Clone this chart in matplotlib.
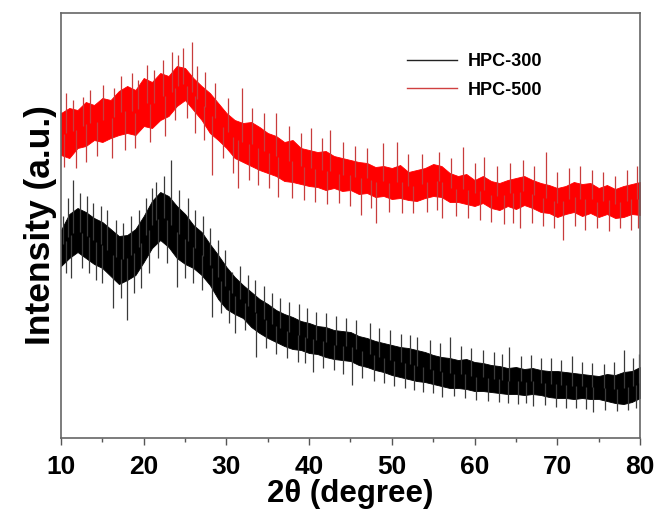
import matplotlib
matplotlib.use("Agg")
import matplotlib.pyplot as plt
from matplotlib.ticker import MultipleLocator

# --- данные (интенсивность в условных единицах) ---
deg = list(range(10, 81))

# HPC-500: верх и низ плотной полосы шума (шаг 1 градус)
red_top = [325, 330, 328, 336, 333, 340, 338, 347, 352, 348, 360, 356, 365, 362, 372, 370,
           360, 352, 345, 335, 325, 318, 315, 316, 311, 305, 302, 296, 298, 290, 288, 286,
           287, 282, 280, 278, 276, 275, 271, 272, 270, 273, 266, 268, 270, 274, 272, 265,
           262, 264, 258, 262, 257, 255, 258, 260, 262, 258, 255, 253, 250, 252, 256, 254,
           255, 250, 253, 249, 252, 254, 256]
red_bot = [283, 280, 290, 292, 298, 296, 300, 303, 305, 303, 312, 310, 318, 322, 332, 338,
           328, 318, 305, 298, 290, 280, 276, 272, 268, 265, 262, 257, 256, 254, 252, 251,
           248, 250, 247, 248, 244, 245, 241, 242, 239, 240, 238, 237, 240, 242, 241, 236,
           236, 234, 232, 235, 230, 228, 232, 229, 233, 230, 226, 225, 221, 224, 226, 222,
           225, 221, 224, 220, 221, 224, 223]

# HPC-300
blk_top = [208, 224, 230, 226, 220, 216, 209, 202, 203, 209, 222, 237, 246, 242, 232, 224,
           213, 206, 194, 183, 171, 161, 153, 146, 139, 134, 128, 124, 121, 117, 115, 112,
           111, 108, 107, 106, 102, 100, 97, 95, 93, 91, 90, 88, 86, 83, 81, 80,
           78, 79, 76, 75, 73, 72, 70, 71, 69, 70, 68, 67, 67, 66, 65, 64,
           63, 62, 64, 63, 66, 67, 71]
blk_bot = [172, 180, 186, 180, 174, 170, 162, 154, 158, 163, 176, 190, 198, 191, 180, 174,
           170, 163, 153, 139, 129, 124, 120, 111, 105, 100, 96, 92, 89, 88, 85, 84,
           81, 79, 78, 77, 73, 71, 68, 66, 63, 61, 59, 57, 56, 54, 52, 50,
           50, 49, 47, 47, 46, 45, 44, 44, 43, 44, 43, 41, 40, 40, 39, 40,
           39, 39, 37, 35, 34, 36, 40]

# отдельные выбросы (положение по 2θ, вершина выброса)
red_up_x = [10.6, 11.4, 12.7, 13.5, 15.1, 16.4, 17.2, 18.6, 19.3, 20.4, 21.2, 22.3, 23.4, 24.1,
            24.8, 25.8, 26.5, 27.4, 28.6, 30.2, 31.9, 33.1, 34.5, 36.0, 37.6, 39.0, 40.2, 41.6,
            42.5, 44.1, 45.6, 47.0, 48.9, 50.6, 52.0, 53.7, 55.7, 57.2, 58.6, 60.0, 61.1, 62.7,
            64.3, 65.9, 67.2, 68.6, 70.0, 71.4, 72.8, 74.2, 75.5, 77.0, 78.4, 79.6]
red_up_y = [345, 338, 341, 348, 353, 350, 362, 365, 358, 373, 368, 378, 386, 383,
            390, 396, 372, 366, 355, 340, 350, 330, 325, 325, 312, 305, 310, 300,
            308, 296, 292, 290, 295, 296, 284, 284, 286, 280, 291, 275, 281, 272,
            275, 278, 272, 286, 266, 270, 272, 268, 266, 262, 268, 272]
red_dn_x = [10.4, 11.8, 13.0, 14.3, 16.2, 17.7, 19.0, 20.8, 22.6, 23.8, 25.2, 26.2, 27.3, 28.3,
            29.6, 30.8, 31.4, 32.7, 33.8, 35.1, 36.2, 37.9, 39.4, 40.7, 42.1, 43.6, 45.0, 46.3,
            47.5, 48.1, 49.6, 51.2, 52.6, 54.3, 55.4, 56.1, 57.8, 59.2, 60.6, 62.0, 63.5, 64.7,
            65.5, 67.0, 68.3, 69.6, 70.7, 72.1, 73.4, 74.8, 76.2, 77.6, 78.9, 79.8]
red_dn_y = [271, 270, 276, 282, 280, 288, 290, 296, 302, 318, 320, 305, 298, 263,
            280, 265, 250, 258, 253, 250, 241, 240, 238, 236, 234, 235, 232, 223,
            230, 215, 226, 225, 225, 226, 228, 220, 222, 220, 218, 216, 214, 215,
            210, 215, 212, 210, 198, 212, 208, 210, 207, 210, 208, 210]

blk_up_x = [10.3, 10.9, 11.5, 12.3, 13.1, 13.9, 14.8, 15.6, 16.6, 17.5, 18.5, 19.4, 20.3, 21.0,
            21.5, 22.4, 23.3, 24.3, 25.3, 26.2, 27.2, 28.0, 29.0, 29.8, 30.7, 31.6, 32.6, 33.4,
            34.6, 35.5, 36.5, 37.6, 38.8, 39.8, 40.8, 42.0, 43.2, 44.4, 45.7, 47.4, 48.5, 49.8,
            51.1, 52.2, 53.0, 54.6, 55.8, 57.0, 58.3, 59.6, 61.0, 62.4, 63.3, 64.2, 65.6, 66.8,
            68.0, 69.3, 70.5, 71.8, 73.0, 74.2, 75.6, 76.9, 78.1, 79.2, 79.9]
blk_up_y = [222, 240, 258, 245, 242, 235, 232, 228, 218, 215, 222, 228, 240, 250,
            256, 262, 278, 248, 240, 228, 222, 210, 198, 188, 166, 172, 163, 158,
            152, 145, 140, 136, 134, 130, 126, 125, 122, 120, 118, 115, 110, 108,
            104, 103, 101, 98, 95, 101, 92, 90, 88, 86, 84, 91, 82, 83,
            80, 80, 78, 82, 76, 75, 74, 76, 88, 80, 84]
blk_dn_x = [10.6, 11.2, 12.5, 13.4, 14.2, 15.0, 16.3, 17.3, 18.0, 18.8, 19.7, 20.6, 21.7, 22.8,
            24.0, 25.0, 26.0, 27.1, 28.3, 29.4, 30.3, 31.0, 32.2, 33.6, 34.8, 36.0, 37.3, 38.6,
            39.5, 40.5, 41.7, 43.0, 44.1, 45.2, 46.4, 47.8, 49.0, 50.3, 51.6, 52.7, 53.8, 55.0,
            56.1, 57.5, 58.9, 60.2, 61.6, 62.9, 64.0, 65.3, 66.2, 67.1, 68.5, 69.8, 71.0, 72.3,
            73.5, 74.3, 75.8, 77.2, 78.6, 79.5]
blk_dn_y = [165, 160, 170, 165, 158, 155, 130, 140, 118, 145, 150, 165, 180, 175,
            151, 160, 155, 148, 121, 125, 115, 105, 108, 81, 90, 84, 80, 76,
            75, 66, 70, 68, 64, 53, 60, 57, 55, 52, 50, 48, 46, 45,
            41, 42, 40, 38, 37, 36, 35, 34, 35, 32, 33, 31, 30, 30,
            29, 26, 28, 27, 28, 30]

labels = ["HPC-300", "HPC-500"]
xticks = [10, 20, 30, 40, 50, 60, 70, 80]


def band_mid(x, top, bot):
    # середина полосы в точке x (основание выброса)
    i = min(int(x) - 10, len(top) - 2)
    t = x - (i + 10)
    return (top[i] + t * (top[i + 1] - top[i]) + bot[i] + t * (bot[i + 1] - bot[i])) / 2


fig = plt.figure(figsize=(6.6, 5.12), dpi=100)
ax = fig.add_axes([0.0924, 0.1445, 0.8773, 0.8301])

# --- выбросы (под полосой) ---
for xs, ys, top, bot, c in [
    (blk_up_x, blk_up_y, blk_top, blk_bot, '#3a3a3a'),
    (blk_dn_x, blk_dn_y, blk_top, blk_bot, '#3a3a3a'),
    (red_up_x, red_up_y, red_top, red_bot, '#c83c3c'),
    (red_dn_x, red_dn_y, red_top, red_bot, '#c83c3c'),
]:
    base = [band_mid(x, top, bot) for x in xs]
    ax.vlines(xs, base, ys, colors=c, lw=0.9)

# --- плотные полосы ---
ax.fill_between(deg, blk_bot, blk_top, facecolor='black', edgecolor='black', lw=0.6)
ax.fill_between(deg, red_bot, red_top, facecolor='#ff0000', edgecolor='#ff0000', lw=0.6)

# легенда
ax.plot([], [], color='#222222', lw=1, label=labels[0])
ax.plot([], [], color='#d04040', lw=1, label=labels[1])
ax.legend(loc='upper left', bbox_to_anchor=(0.585, 0.922), frameon=False,
          handlelength=2.8, handletextpad=0.55, labelspacing=0.62, borderaxespad=0,
          prop={'family': 'Liberation Sans', 'weight': 'bold', 'size': 13})

ax.set_xlim(10, 80)
ax.set_ylim(0, 425)
ax.set_xticks(xticks)
ax.xaxis.set_minor_locator(MultipleLocator(5))
ax.set_yticks([])
ax.tick_params(axis='x', which='major', direction='out', length=5, width=1, color='#555555',
               pad=7)
ax.tick_params(axis='x', which='minor', direction='out', length=3, width=1, color='#555555')
for lab in ax.get_xticklabels():
    lab.set_family('Liberation Sans')
    lab.set_fontweight('bold')
    lab.set_fontsize(19)

for s in ax.spines.values():
    s.set_color('#666666')
    s.set_linewidth(1.2)

ax.set_xlabel('2θ (degree)', family='Liberation Sans', fontweight='bold', fontsize=22.5,
              labelpad=0)
ax.set_ylabel('Intensity (a.u.)', family='Liberation Sans', fontweight='bold', fontsize=25.5,
              labelpad=3)

fig.savefig('out.png', dpi=100)
